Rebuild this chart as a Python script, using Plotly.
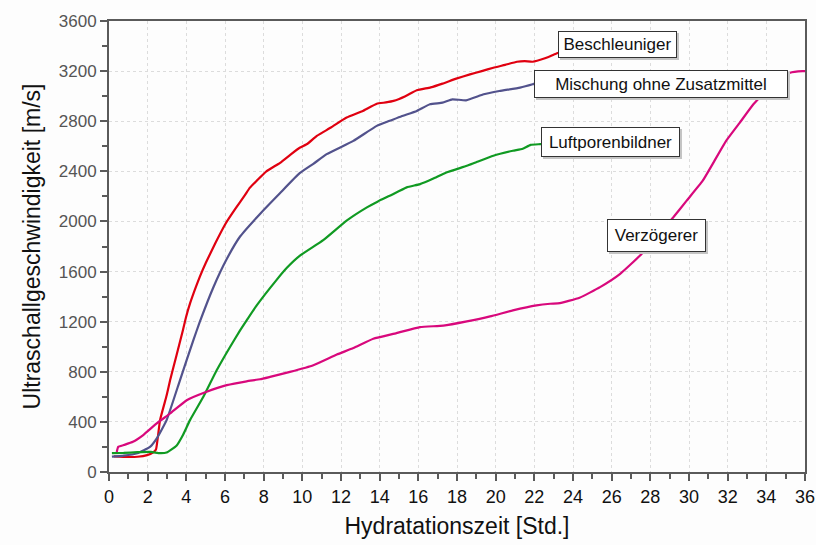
import plotly.graph_objects as go

# Ultrasonic pulse velocity during hydration for four mixtures
beschl_t = [0.25, 0.96, 1.47, 1.97, 2.27, 2.43, 2.64, 2.98, 3.16, 3.49, 3.82, 3.99, 4.2, 4.5, 4.7, 5.01, 5.51, 6.02,
            6.53, 7.03, 7.29, 7.64, 8.14, 8.85, 9.36, 9.86, 10.27, 10.75, 11.48, 12.29, 13.1, 13.85, 14.32, 14.72,
            15.33, 15.92, 16.64, 17.25, 17.96, 18.67, 19.28, 19.88, 20.49, 21.1, 21.5, 21.91, 22.51, 23.12, 23.53]
beschl_v = [125, 120, 122, 135, 155, 180, 414, 610, 732, 930, 1130, 1240, 1350, 1480, 1560, 1670, 1830, 1980,
            2100, 2210, 2270, 2325, 2400, 2468, 2530, 2588, 2620, 2683, 2750, 2829, 2880, 2940, 2950, 2962,
            3000, 3047, 3070, 3100, 3140, 3174, 3200, 3227, 3250, 3275, 3280, 3275, 3300, 3339, 3360]

mischung_t = [0.15, 0.76, 1.47, 2.12, 2.48, 2.98, 3.67, 4.36, 4.7, 5.4, 6.09, 6.78, 7.81, 8.84, 9.86, 10.57,
              11.26, 12.64, 13.85, 14.52, 15.13, 15.92, 16.6, 17.25, 17.76, 18.47, 19.38, 20.19, 21.26, 21.91,
              22.21]
mischung_v = [122, 130, 150, 200, 270, 414, 732, 1051, 1200, 1475, 1700, 1880, 2060, 2225, 2385, 2460,
              2537, 2643, 2763, 2803, 2840, 2882, 2935, 2948, 2975, 2967, 3015, 3041, 3068, 3095, 3110]

luft_t = [0.15, 0.76, 1.47, 2.17, 2.64, 2.98, 3.49, 3.84, 4.19, 4.88, 5.57, 6.26, 6.78, 7.12, 7.64, 8.65, 9.2,
          9.86, 11.08, 12.29, 13.34, 13.91, 14.52, 15.4, 16.09, 16.75, 17.45, 18.51, 18.97, 19.88, 20.89, 21.4,
          21.81, 22.31, 22.51]
luft_v = [150, 152, 158, 160, 150, 155, 210, 300, 414, 600, 812, 998, 1130, 1210, 1330, 1530, 1630,
          1725, 1850, 2006, 2112, 2160, 2205, 2272, 2298, 2340, 2391, 2444, 2471, 2524, 2564, 2580,
          2611, 2617, 2620]

verz_t = [0.4, 0.48, 0.76, 1.24, 1.77, 2.47, 3.16, 4.02, 5.05, 6.09, 7.12, 7.81, 8.33, 9.36, 10.57, 11.78,
          12.64, 13.67, 14.87, 16.09, 17.29, 18.51, 19.71, 20.89, 22.11, 22.82, 23.32, 24.34, 25.4, 26.44,
          27.47, 28.28, 29.19, 29.88, 30.71, 31.22, 31.92, 32.63, 33.33, 33.85, 34.35, 34.76, 35.23, 35.87, 36.0]
verz_v = [160, 201, 215, 241, 295, 388, 467, 573, 640, 693, 724, 740, 759, 799, 852, 937,
          990, 1064, 1109, 1157, 1168, 1202, 1242, 1290, 1330, 1343, 1348, 1391, 1476, 1582,
          1728, 1870, 2033, 2166, 2325, 2458, 2643, 2789, 2935, 3020, 3090, 3140, 3187, 3200, 3200]

series = [
    ("Beschleuniger", beschl_t, beschl_v, "#E00010"),
    ("Mischung ohne Zusatzmittel", mischung_t, mischung_v, "#52528C"),
    ("Luftporenbildner", luft_t, luft_v, "#109A22"),
    ("Verzögerer", verz_t, verz_v, "#D8087C"),
]

# label boxes: text, anchor time, anchor velocity, box width, box height
labels = [
    ("Beschleuniger", 23.23, 3409, 113, 21),
    ("Mischung ohne Zusatzmittel", 21.99, 3099, 248, 22),
    ("Luftporenbildner", 22.33, 2635, 133, 24),
    ("Verzögerer", 25.78, 1889, 93, 27),
]

x_ticks = list(range(0, 37, 2))
y_ticks = list(range(0, 3601, 400))

FONT = "Liberation Sans, Arial"

fig = go.Figure()
for name, t, v, col in series:
    fig.add_trace(go.Scatter(x=t, y=v, mode="lines", name=name,
                             line=dict(color=col, width=2.2, shape="spline", smoothing=0.4)))

for text, lx, ly, w, h in labels:
    # soft drop shadow behind each label box
    fig.add_annotation(x=lx, y=ly, xref="x", yref="y", text="\u00a0", showarrow=False,
                       xanchor="left", yanchor="middle", width=w, height=h,
                       font=dict(family=FONT, size=17),
                       bgcolor="#c4c4c4", bordercolor="#c4c4c4", borderwidth=1, borderpad=2,
                       xshift=2, yshift=-2)
    fig.add_annotation(x=lx, y=ly, xref="x", yref="y", text=text, showarrow=False,
                       xanchor="left", yanchor="middle", width=w, height=h, align="center",
                       font=dict(family=FONT, size=17, color="#111"),
                       bgcolor="white", bordercolor="#333", borderwidth=1, borderpad=2)

axis_common = dict(showline=True, linecolor="#5a5a5a", linewidth=2, mirror=True,
                   ticks="outside", tickcolor="#5a5a5a", tickwidth=2, ticklen=7,
                   showgrid=True, gridcolor="#dcdcdc", griddash="dot", gridwidth=1,
                   zeroline=False, ticklabeloverflow="allow", automargin=False)

fig.update_xaxes(range=[0, 36], tickvals=x_ticks, ticktext=[str(t) for t in x_ticks],
                 tickfont=dict(family=FONT, size=18, color="#111"),
                 title=dict(text="Hydratationszeit [Std.]", standoff=12,
                            font=dict(family=FONT, size=23, color="#111")),
                 minor=dict(dtick=1, ticklen=5, tickcolor="#5a5a5a", tickwidth=2, ticks="outside",
                            showgrid=False),
                 **axis_common)
fig.update_yaxes(range=[0, 3600], tickvals=y_ticks, ticktext=[str(t) for t in y_ticks],
                 tickfont=dict(family=FONT, size=17, color="#555"),
                 title=dict(text="Ultraschallgeschwindigkeit [m/s]", standoff=12,
                            font=dict(family=FONT, size=23, color="#111")),
                 minor=dict(dtick=200, ticklen=5, tickcolor="#5a5a5a", tickwidth=2, ticks="outside",
                            showgrid=False),
                 **axis_common)

fig.update_layout(width=816, height=545, showlegend=False,
                  margin=dict(l=109, r=11, t=21, b=73),
                  paper_bgcolor="#fdfdfd", plot_bgcolor="#fdfdfd")

fig.write_html("out.html")
